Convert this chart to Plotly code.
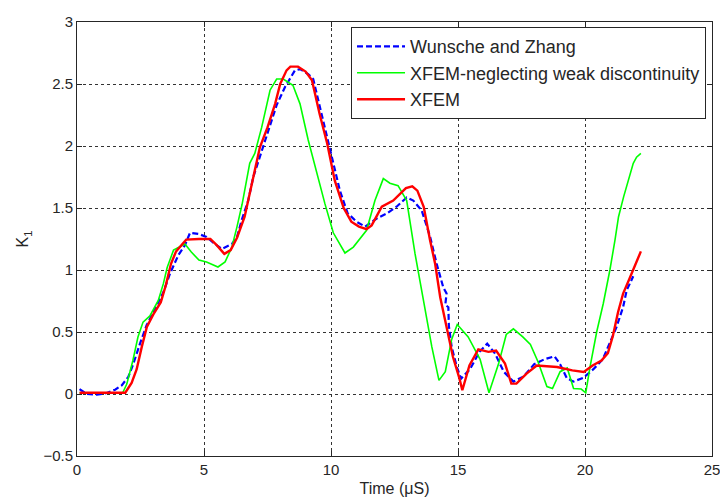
import plotly.graph_objects as go

# Wunsche and Zhang (reference)
wz_x = [0.1, 0.38, 0.78, 1.17, 1.5, 1.76, 2.02, 2.22, 2.48, 2.74, 2.94, 3.13, 3.4, 3.66, 3.99,
        4.25, 4.45, 4.8, 5.1, 5.43, 5.7, 6.1, 6.3, 6.48, 6.74, 6.94, 7.27, 7.6, 7.86, 8.19,
        8.58, 8.78, 9.1, 9.3, 9.57, 9.9, 10.1, 10.35, 10.65, 11.0, 11.34, 11.8, 12.19, 12.58,
        12.98, 13.24, 13.57, 13.9, 14.16, 14.42, 14.55, 14.5, 14.62, 14.64, 14.75, 14.95,
        15.12, 15.47, 15.85, 16.15, 16.46, 16.8, 17.18, 17.57, 18.0, 18.4, 18.8, 19.02, 19.28,
        19.54, 19.93, 20.33, 20.7, 21.0, 21.24, 21.5, 21.64, 21.9]
wz_y = [0.04, 0.0, -0.005, 0.008, 0.035, 0.07, 0.137, 0.245, 0.406, 0.554, 0.635, 0.715, 0.82,
        0.97, 1.12, 1.2, 1.3, 1.29, 1.266, 1.21, 1.17, 1.21, 1.266, 1.4, 1.56, 1.75, 1.965,
        2.18, 2.33, 2.476, 2.61, 2.62, 2.58, 2.54, 2.31, 2.02, 1.87, 1.64, 1.46, 1.39, 1.35,
        1.415, 1.455, 1.51, 1.585, 1.56, 1.48, 1.27, 1.05, 0.86, 0.81, 0.72, 0.70, 0.55, 0.38,
        0.22, 0.124, 0.2, 0.34, 0.406, 0.326, 0.18, 0.1, 0.14, 0.24, 0.28, 0.304, 0.24, 0.13,
        0.1, 0.13, 0.2, 0.28, 0.43, 0.54, 0.70, 0.836, 0.95]

# XFEM neglecting weak discontinuity
xn_x = [0.1, 1.8, 1.96, 2.2, 2.4, 2.6, 2.87, 3.2, 3.4, 3.55, 3.8, 4.25, 4.5, 4.8, 5.1, 5.55,
        5.83, 6.1, 6.3, 6.5, 6.8, 7.0, 7.27, 7.6, 7.86, 8.12, 8.5, 8.78, 9.1, 9.44, 9.76, 10.09,
        10.55, 10.88, 11.4, 11.73, 12.06, 12.32, 12.64, 12.98, 13.31, 13.64, 13.97, 14.25, 14.5,
        14.75, 14.97, 15.4, 15.87, 16.22, 16.6, 16.9, 17.18, 17.55, 17.85, 18.15, 18.5, 18.72,
        19.02, 19.3, 19.55, 19.85, 20.03, 20.2, 20.46, 20.72, 20.98, 21.18, 21.32, 21.52, 21.71,
        21.9, 22.03, 22.2]
xn_y = [0.01, 0.01, 0.08, 0.27, 0.46, 0.58, 0.63, 0.755, 0.89, 1.02, 1.16, 1.21, 1.145, 1.08,
        1.065, 1.024, 1.065, 1.185, 1.35, 1.53, 1.86, 1.94, 2.15, 2.45, 2.54, 2.54, 2.49, 2.34,
        2.05, 1.78, 1.535, 1.3, 1.137, 1.185, 1.32, 1.56, 1.737, 1.70, 1.68, 1.56, 1.13, 0.755,
        0.38, 0.11, 0.18, 0.44, 0.56, 0.46, 0.28, 0.01, 0.245, 0.48, 0.525, 0.46, 0.4, 0.26,
        0.06, 0.044, 0.18, 0.21, 0.044, 0.04, 0.01, 0.22, 0.5, 0.73, 1.0, 1.24, 1.43, 1.59,
        1.72, 1.86, 1.91, 1.94]

# XFEM
xf_x = [0.1, 1.9, 2.15, 2.35, 2.55, 2.75, 3.0, 3.3, 3.5, 3.7, 3.9, 4.3, 4.8, 5.25, 5.5, 5.8,
        6.05, 6.3, 6.6, 6.95, 7.2, 7.5, 7.8, 8.0, 8.25, 8.4, 8.7, 9.0, 9.25, 9.55, 9.85, 10.15,
        10.5, 10.8, 11.1, 11.4, 11.6, 12.0, 12.45, 12.95, 13.2, 13.4, 13.65, 13.9, 14.1, 14.3,
        14.55, 14.8, 15.05, 15.17, 15.45, 15.8, 16.2, 16.5, 16.85, 17.1, 17.3, 17.7, 18.1, 18.9,
        19.5, 19.95, 20.3, 20.65, 20.9, 21.1, 21.3, 21.5, 21.75, 22.0, 22.2]
xf_y = [0.01, 0.01, 0.09, 0.2, 0.38, 0.54, 0.64, 0.74, 0.88, 1.05, 1.15, 1.245, 1.25, 1.25,
        1.2, 1.13, 1.16, 1.26, 1.43, 1.75, 1.99, 2.15, 2.34, 2.5, 2.61, 2.64, 2.64, 2.6, 2.53,
        2.26, 2.02, 1.72, 1.5, 1.39, 1.35, 1.33, 1.36, 1.51, 1.56, 1.66, 1.675, 1.64, 1.51,
        1.24, 1.05, 0.78, 0.54, 0.3, 0.13, 0.03, 0.23, 0.36, 0.34, 0.35, 0.245, 0.084, 0.084,
        0.165, 0.23, 0.218, 0.19, 0.177, 0.23, 0.27, 0.33, 0.47, 0.66, 0.81, 0.93, 1.05, 1.15]

names = ["Wunsche and Zhang", "XFEM-neglecting weak discontinuity", "XFEM"]

FONT = "Liberation Sans, Arial, sans-serif"

fig = go.Figure()
fig.add_trace(go.Scatter(x=wz_x, y=wz_y, mode="lines", name=names[0],
                         line=dict(color="#0000ff", width=2.2, dash="6px,3px")))
fig.add_trace(go.Scatter(x=xn_x, y=xn_y, mode="lines", name=names[1],
                         line=dict(color="#00ff00", width=1.6)))
fig.add_trace(go.Scatter(x=xf_x, y=xf_y, mode="lines", name=names[2],
                         line=dict(color="#ff0000", width=2.4)))

axis_common = dict(
    showline=True, linecolor="#262626", linewidth=1, mirror="ticks",
    ticks="inside", ticklen=5, tickcolor="#262626",
    showgrid=True, gridcolor="#333333", gridwidth=1, griddash="3px,3px",
    zeroline=False, tickfont=dict(family=FONT, size=15, color="#262626"),
    ticklabeloverflow="allow",
)

fig.update_xaxes(range=[0, 25], dtick=5, tick0=0,
                 title=dict(text="Time (μS)", font=dict(family=FONT, size=16, color="#262626"),
                            standoff=5),
                 **axis_common)
fig.update_yaxes(range=[-0.5, 3], dtick=0.5, tick0=0,
                 title=dict(text="K<sub>1</sub>", font=dict(family=FONT, size=16, color="#262626"),
                            standoff=10),
                 **axis_common)

fig.update_layout(
    width=720, height=500,
    margin=dict(l=77, r=8, t=22, b=44, autoexpand=False),
    paper_bgcolor="white", plot_bgcolor="white",
    font=dict(family=FONT, color="#262626"),
    legend=dict(x=0.9906, y=0.988, xanchor="right", yanchor="top",
                bgcolor="white", bordercolor="#262626", borderwidth=1,
                font=dict(family=FONT, size=18, color="#262626"),
                tracegroupgap=0, itemwidth=48),
    showlegend=True,
)

fig.write_html("out.html")
